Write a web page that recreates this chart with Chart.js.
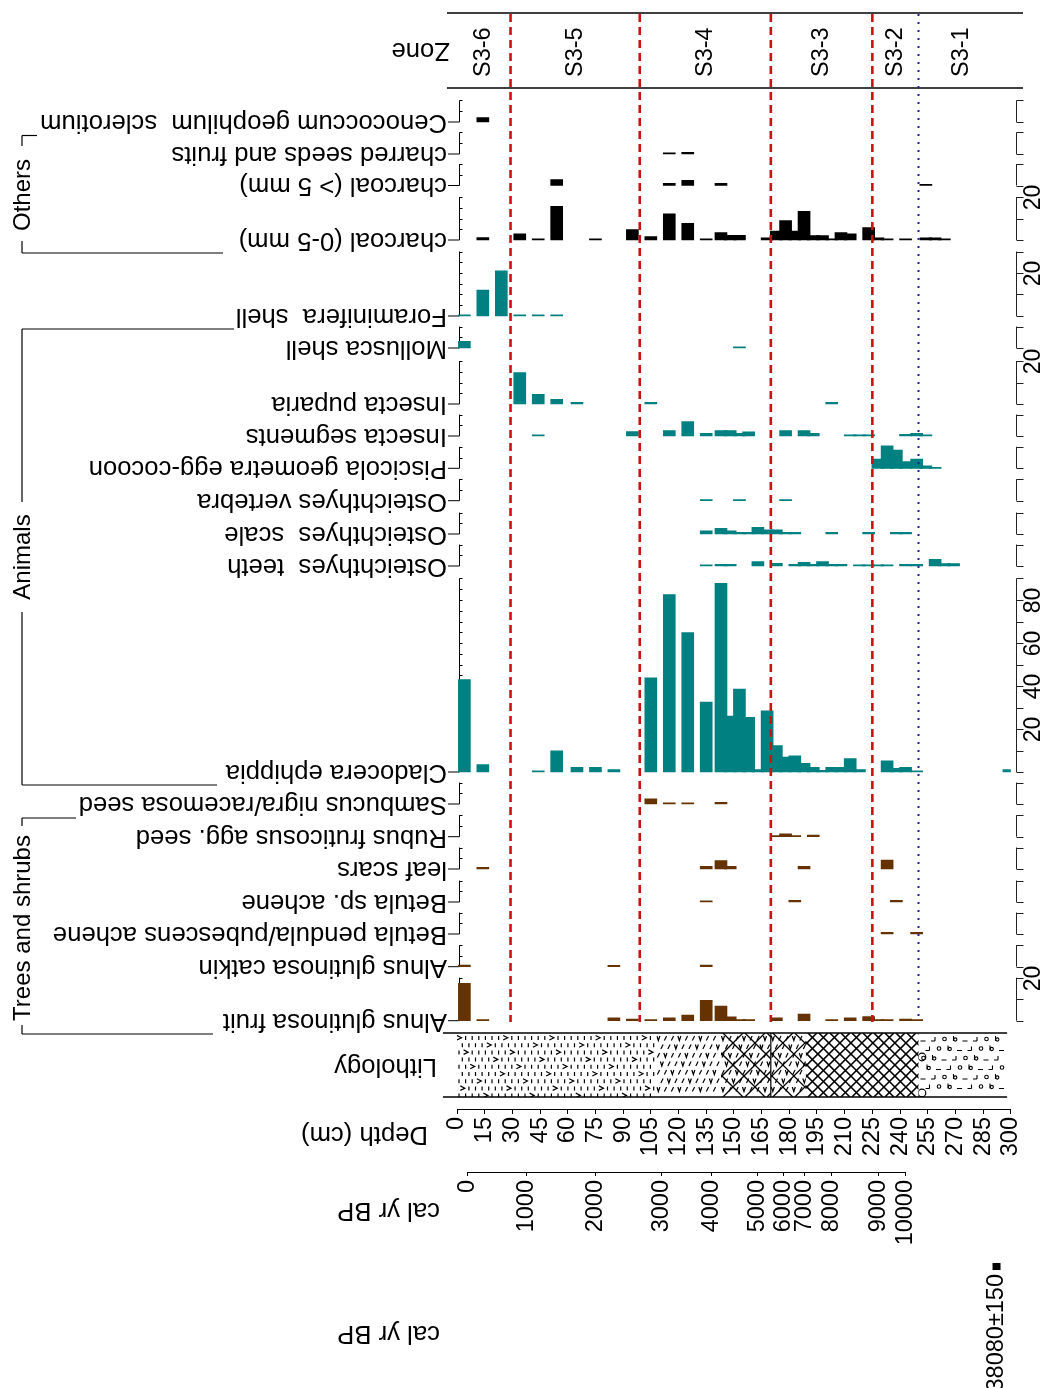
<!DOCTYPE html>
<html>
<head>
<meta charset="utf-8">
<title>Macrofossil diagram S3</title>
<script src="https://cdn.jsdelivr.net/npm/chart.js@4.4.1/dist/chart.umd.min.js"></script>
<style>
  html, body { margin: 0; padding: 0; background: #ffffff; }
  canvas { display: block; }
</style>
</head>
<body>
<canvas id="diagram" width="1042" height="1388" style="width:1042px;height:1388px"></canvas>
<script>
// ---- Samples (depth of each counted slice, cm) ----
const _ = null;
const sampleDepths = [4, 14, 24, 34, 44, 54, 65, 75, 85, 95,
  105, 115, 125, 135, 143, 148, 153, 158, 163, 168,
  173, 178, 183, 188, 193, 198, 203, 208, 213, 218,
  223, 228, 233, 238, 243, 249, 254, 259, 264, 269, 299];

// ---- Counts per taxon, one value per sample (null = not found) ----
const cenococcum     = [_,2,_,_,_,_,_,_,_,_, _,_,_,_,_,_,_,_,_,_, _,_,_,_,_,_,_,_,_,_, _,_,_,_,_,_,_,_,_,_, _];
const charredSeeds   = [_,_,_,_,_,_,_,_,_,_, _,0.6,0.8,_,_,_,_,_,_,_, _,_,_,_,_,_,_,_,_,_, _,_,_,_,_,_,_,_,_,_, _];
const charcoalCoarse = [_,_,_,_,_,2.7,_,_,_,_, _,1,2.4,_,1,_,_,_,_,_, _,_,_,_,_,_,_,_,_,_, _,_,_,_,_,_,0.6,_,_,_, _];
const charcoalFine   = [_,1.1,_,2.9,0.6,15.7,_,0.5,_,4.8, 1.6,12.2,7.7,0.5,3.5,2.2,2.2,_,_,1, 4.2,9,4.2,13.3,2.1,2.1,0.5,3.5,2.9,_, 5.8,1,0.5,_,0.5,_,1,1,0.5,_, _];
const foraminifera   = [0.5,12.1,21,0.5,0.6,0.6,_,_,_,_, _,_,_,_,_,_,_,_,_,_, _,_,_,_,_,_,_,_,_,_, _,_,_,_,_,_,_,_,_,_, _];
const mollusca       = [3.1,_,_,_,_,_,_,_,_,_, _,_,_,_,_,_,0.5,_,_,_, _,_,_,_,_,_,_,_,_,_, _,_,_,_,_,_,_,_,_,_, _];
const puparia        = [_,_,_,14.6,4.5,2.2,0.8,_,_,_, 0.8,_,_,_,_,_,_,_,_,_, _,_,_,_,_,_,0.8,_,_,_, _,_,_,_,_,_,_,_,_,_, _];
const segments       = [_,_,_,_,0.6,_,_,_,_,2, _,2.5,6.7,1.2,2.5,2.5,1.2,1.9,_,_, _,2.5,_,2.5,1.2,_,_,_,0.6,0.6, 0.6,_,_,_,0.8,1.2,0.6,_,_,_, _];
const piscicola      = [_,_,_,_,_,_,_,_,_,_, _,_,_,_,_,_,_,_,_,_, _,_,_,_,_,_,_,_,_,_, _,4.3,10.4,8.5,3.1,4.3,1.2,0.5,_,_, _];
const fishVertebra   = [_,_,_,_,_,_,_,_,_,_, _,_,_,0.5,_,_,0.5,_,_,_, _,0.5,_,_,_,_,_,_,_,_, _,_,_,_,_,_,_,_,_,_, _];
const fishScale      = [_,_,_,_,_,_,_,_,_,_, _,_,_,1.5,2.6,1.5,0.8,0.8,3.1,1.9, 1.9,0.8,0.8,_,_,_,0.8,_,_,_, 0.8,_,_,0.8,0.8,_,_,_,_,_, _];
const fishTeeth      = [_,_,_,_,_,_,_,_,_,_, _,_,_,0.5,0.8,0.8,_,_,2,_, 1.2,_,0.8,1.7,0.8,2,0.8,0.8,_,0.5, 0.5,0.5,0.5,_,0.8,0.8,_,3.1,1.1,1.1, _];
const cladocera      = [43,3.4,_,_,0.6,9.8,2.2,2.2,1.1,_, 43.8,82.5,64.8,32.5,87.8,26,38.6,25.4,1.1,28.5, 12.3,6.9,7.5,4,2.2,0.8,2.2,2.2,6.3,1.1, _,_,5.2,1.7,2.2,0.6,_,_,_,_, 1.1];
const sambucus       = [_,_,_,_,_,_,_,_,_,_, 2.4,0.5,0.5,_,0.8,_,_,_,_,_, _,_,_,_,_,_,_,_,_,_, _,_,_,_,_,_,_,_,_,_, _];
const rubus          = [_,_,_,_,_,_,_,_,_,_, _,_,_,_,_,_,_,_,_,_, 0.5,1.3,0.5,_,0.8,_,_,_,_,_, _,_,_,_,_,_,_,_,_,_, _];
const leafScars      = [_,0.8,_,_,_,_,_,_,_,_, _,_,_,1.3,3.9,1.3,_,_,_,_, _,_,_,1.3,_,_,_,_,_,_, _,_,4.2,_,_,_,_,_,_,_, _];
const betulaSp       = [_,_,_,_,_,_,_,_,_,_, _,_,_,0.5,_,_,_,_,_,_, _,_,0.8,_,_,_,_,_,_,_, _,_,_,0.8,_,_,_,_,_,_, _];
const betulaPendula  = [_,_,_,_,_,_,_,_,_,_, _,_,_,_,_,_,_,_,_,_, _,_,_,_,_,_,_,_,_,_, _,_,0.8,_,_,0.8,_,_,_,_, _];
const alnusCatkin    = [0.8,_,_,_,_,_,_,_,0.6,_, _,_,_,0.8,_,_,_,_,_,_, _,_,_,_,_,_,_,_,_,_, _,_,_,_,_,_,_,_,_,_, _];
const alnusFruit     = [17.4,0.5,_,_,_,_,_,_,1.3,0.8, 0.5,1.3,2.6,9.5,6.8,1.8,0.5,0.5,_,_, 1.3,_,_,3.1,_,_,0.5,_,1.3,_, 1.9,0.5,0.5,_,0.8,0.5,_,_,_,_, _];

const taxonNames = ['Cenococcum geophilum  sclerotium', 'charred seeds and fruits', 'charcoal (> 5 mm)',
  'charcoal (0-5 mm)', 'Foraminifera  shell', 'Mollusca shell', 'Insecta puparia', 'Insecta segments',
  'Piscicola geometra egg-cocoon', 'Osteichthyes vertebra', 'Osteichthyes  scale', 'Osteichthyes  teeth',
  'Cladocera ephippia', 'Sambucus nigra/racemosa seed', 'Rubus fruticosus agg. seed', 'leaf scars',
  'Betula sp. achene', 'Betula pendula/pubescens achene', 'Alnus glutinosa catkin', 'Alnus glutinosa fruit'];
const taxonValues = [cenococcum, charredSeeds, charcoalCoarse, charcoalFine, foraminifera, mollusca, puparia,
  segments, piscicola, fishVertebra, fishScale, fishTeeth, cladocera, sambucus, rubus, leafScars, betulaSp,
  betulaPendula, alnusCatkin, alnusFruit];
const taxonGroup = ['Others','Others','Others','Others','Animals','Animals','Animals','Animals','Animals',
  'Animals','Animals','Animals','Animals','Trees and shrubs','Trees and shrubs','Trees and shrubs',
  'Trees and shrubs','Trees and shrubs','Trees and shrubs','Trees and shrubs'];
const axisMax = [10,10,10,20,30,10,20,10,10,10,10,10,90,10,10,10,10,10,10,20];

// ---- Zones, axes, lithology ----
const zoneNames = ['S3-6', 'S3-5', 'S3-4', 'S3-3', 'S3-2', 'S3-1'];
const zoneBounds = [0, 29, 99, 170, 225, 250, 297];
const depthTicks = [0, 15, 30, 45, 60, 75, 90, 105, 120, 135, 150, 165, 180, 195, 210, 225, 240, 255, 270, 285, 300];
const ageTickLabels = ['0', '1000', '2000', '3000', '4000', '5000', '6000', '7000', '8000', '9000', '10000'];
const ageTickDepths = [5.6, 37.7, 75.1, 110.8, 138, 163, 177, 188, 202.7, 228.4, 242.7];
const datedLabels = ['38080±150'];
const datedDepths = [292];
const lithoTop  = [0, 108, 143, 170, 189, 250];
const lithoBase = [108, 143, 170, 189, 250, 298];
const lithoKind = ['siltChevron', 'siltTicks', 'latticeWide', 'latticeWide', 'latticeDense', 'shellClay'];

// ---- Layout ----
const FONT = 'Liberation Sans, Arial, sans-serif';
const PX_PER_UNIT = 2.15;
const PLOT_TOP = 13, PLOT_BOTTOM = 1109;
const panelBase = [122, 154, 185.5, 240, 316, 348, 404, 436, 468.3, 500.7, 534, 566, 772, 804, 836.7, 869, 902, 934, 966.7, 1020.7];
const groupColor = { 'Others': '#000000', 'Animals': '#008080', 'Trees and shrubs': '#663300' };

function seg(ctx, x1, y1, x2, y2) {
  ctx.beginPath(); ctx.moveTo(x1, y1); ctx.lineTo(x2, y2); ctx.stroke();
}
function text(ctx, str, x, y, angle, align, font) {
  ctx.save();
  ctx.translate(x, y); ctx.rotate(angle);
  ctx.textAlign = align; ctx.textBaseline = 'middle';
  ctx.font = font; ctx.fillStyle = '#000';
  ctx.fillText(str, 0, 0);
  ctx.restore();
}

const lithoPainters = {
  siltChevron(ctx, xa, xb, t, b) {
    ctx.lineWidth = 1.2; ctx.strokeStyle = '#000';
    let r = 0;
    for (let y = t + 3; y < b - 2; y += 7.2, r++) {
      let c = 0;
      for (let x = xa + 2 + (r % 2) * 3.3; x < xb; x += 6.6, c++) {
        if ((c + 3 * r) % 7 === 0) {
          ctx.beginPath(); ctx.moveTo(x - 2, y - 0.5); ctx.lineTo(x + 2.5, y + 1.8); ctx.lineTo(x - 2, y + 4); ctx.stroke();
        } else {
          seg(ctx, x, y, x, y + 4);
        }
      }
    }
  },
  siltTicks(ctx, xa, xb, t, b) {
    ctx.lineWidth = 1.2; ctx.strokeStyle = '#000';
    let r = 0;
    for (let y = t + 3; y < b - 2; y += 8.5, r++) {
      let c = 0;
      for (let x = xa + 2 + (r % 2) * 3.5; x < xb; x += 7, c++) {
        if ((c + r) % 3 === 0) {
          ctx.beginPath(); ctx.moveTo(x - 1.5, y); ctx.lineTo(x, y + 4.5); ctx.lineTo(x + 1.5, y); ctx.stroke();
        } else {
          seg(ctx, x - 1, y + 4.5, x + 1.2, y);
        }
      }
    }
  },
  latticeWide(ctx, xa, xb, t, b) {
    lithoPainters.siltTicks(ctx, xa, xb, t, b);
    ctx.lineWidth = 1.3; ctx.strokeStyle = '#000';
    const h = b - t, p = 22;
    for (let c = xa - h - p; c < xb + p; c += p) {
      seg(ctx, c, t, c + h, b);
      seg(ctx, c, b, c + h, t);
    }
  },
  latticeDense(ctx, xa, xb, t, b) {
    ctx.lineWidth = 1.6; ctx.strokeStyle = '#000';
    const h = b - t, p = 11;
    for (let c = xa - h - p; c < xb + p; c += p) {
      seg(ctx, c, t, c + h, b);
      seg(ctx, c, b, c + h, t);
    }
  },
  shellClay(ctx, xa, xb, t, b) {
    ctx.lineWidth = 1.1; ctx.strokeStyle = '#000';
    let r = 0;
    for (let y = t + 4; y < b - 3; y += 9.5, r++) {
      let c = 0;
      for (let x = xa + 5 + (r % 2) * 5; x < xb - 2; x += 10.5, c++) {
        const k = (c + r) % 4;
        if (k === 0) {
          seg(ctx, x - 3, y + 4, x + 2, y + 4);
        } else if (k === 1) {
          seg(ctx, x + 1, y, x + 1, y + 4); seg(ctx, x - 3, y + 4, x + 1, y + 4);
        } else if (k === 2) {
          ctx.beginPath(); ctx.arc(x, y + 2, 1.8, 0, Math.PI * 2); ctx.stroke();
        } else {
          seg(ctx, x - 1.5, y - 1, x - 1.5, y + 4);
          ctx.beginPath(); ctx.arc(x + 0.3, y + 2.5, 1.6, 0, Math.PI * 2); ctx.stroke();
        }
      }
    }
    ctx.lineWidth = 1.2;
    ctx.beginPath(); ctx.arc(xa + 3.5, t + 24, 3.8, 0, Math.PI * 2); ctx.stroke();
    ctx.beginPath(); ctx.arc(xa + 3.5, b - 4, 3.8, 0, Math.PI * 2); ctx.stroke();
  }
};

const diagramPlugin = {
  id: 'diagramFurniture',
  beforeDatasetsDraw(chart) {
    const ctx = chart.ctx;
    const xs = chart.scales.x;
    const X = d => xs.getPixelForValue(d);
    ctx.save();
    // lithology column
    const lt = 1033, lb = 1097;
    for (let u = 0; u < lithoKind.length; u++) {
      const xa = X(lithoTop[u]), xb = X(lithoBase[u]);
      ctx.save();
      ctx.beginPath(); ctx.rect(xa, lt, xb - xa, lb - lt); ctx.clip();
      lithoPainters[lithoKind[u]](ctx, xa, xb, lt, lb);
      ctx.restore();
    }
    ctx.strokeStyle = '#000'; ctx.lineWidth = 1.2;
    seg(ctx, X(170), lt, X(170), lb);
    ctx.lineWidth = 1.5;
    seg(ctx, 443, lt, X(298), lt);
    seg(ctx, 443, lb, X(298), lb);

    // panel axes
    const axL = 459.5, axR = 1016.5;
    for (let i = 0; i < taxonNames.length; i++) {
      const ys = chart.scales['y' + i];
      const y0 = ys.getPixelForValue(0), yTop = ys.getPixelForValue(axisMax[i]);
      ctx.strokeStyle = '#000'; ctx.lineWidth = 1;
      seg(ctx, 448, y0, axL, y0);
      seg(ctx, axL, y0, axL, yTop);
      for (let v = 5; v <= axisMax[i]; v += 5) {
        const yy = Math.round(ys.getPixelForValue(v)) + 0.5;
        seg(ctx, axL, yy, axL + 3, yy);
      }
      ctx.strokeStyle = '#222';
      seg(ctx, axR, y0, axR, yTop);
      for (let v = 0; v <= axisMax[i]; v += 10) {
        const yy = Math.round(ys.getPixelForValue(v)) + 0.5;
        seg(ctx, axR, yy, axR + 7, yy);
        if (v > 0 && v % 20 === 0) {
          text(ctx, String(v), 1034, yy, -Math.PI / 2, 'center', '23px ' + FONT);
        }
      }
    }
    ctx.restore();
  },
  afterDatasetsDraw(chart) {
    const ctx = chart.ctx;
    const xs = chart.scales.x;
    const X = d => xs.getPixelForValue(d);
    ctx.save();
    // zone header
    ctx.strokeStyle = '#000'; ctx.lineWidth = 1.5;
    seg(ctx, 447, 13, 1023, 13);
    seg(ctx, 447, 88, 1023, 88);
    for (let z = 0; z < zoneNames.length; z++) {
      const mid = (zoneBounds[z] + zoneBounds[z + 1]) / 2;
      text(ctx, zoneNames[z], X(mid), 77, -Math.PI / 2, 'left', '23.5px ' + FONT);
    }
    // zone boundaries
    for (let z = 1; z < zoneBounds.length - 1; z++) {
      const x = X(zoneBounds[z]);
      if (zoneBounds[z] === 250) {
        ctx.strokeStyle = '#2020a8'; ctx.lineWidth = 2; ctx.setLineDash([2, 6]);
      } else {
        ctx.strokeStyle = '#cc1111'; ctx.lineWidth = 2.6; ctx.setLineDash([8, 5]);
      }
      seg(ctx, x, 14, x, 1022);
    }
    ctx.setLineDash([]);
    ctx.restore();
  },
  afterDraw(chart) {
    const ctx = chart.ctx;
    ctx.save();
    const labelFont = '25.7px ' + FONT;
    for (let i = 0; i < taxonNames.length; i++) {
      const y0 = chart.scales['y' + i].getPixelForValue(0);
      text(ctx, taxonNames[i], 447, y0, Math.PI, 'left', labelFont);
    }
    text(ctx, 'Zone', 450, 50, Math.PI, 'left', labelFont);
    text(ctx, 'Lithology', 437, 1066, Math.PI, 'left', labelFont);
    text(ctx, 'Depth (cm)', 428, 1134, Math.PI, 'left', labelFont);
    text(ctx, 'cal yr BP', 440, 1210, Math.PI, 'left', labelFont);
    text(ctx, 'cal yr BP', 440, 1333, Math.PI, 'left', labelFont);

    // group brackets
    const gFont = '24px ' + FONT;
    ctx.strokeStyle = '#000'; ctx.lineWidth = 1.2;
    // Others
    seg(ctx, 22, 135.5, 37, 135.5); seg(ctx, 22, 135.5, 22, 146);
    seg(ctx, 22, 241, 22, 253); seg(ctx, 22, 253, 223, 253);
    text(ctx, 'Others', 23, 195, -Math.PI / 2, 'center', gFont);
    // Animals
    seg(ctx, 22, 329, 234, 329); seg(ctx, 22, 329, 22, 502);
    seg(ctx, 22, 612, 22, 785); seg(ctx, 22, 785, 217, 785);
    text(ctx, 'Animals', 23, 557, -Math.PI / 2, 'center', gFont);
    // Trees and shrubs
    seg(ctx, 22, 818, 76, 818); seg(ctx, 22, 818, 22, 826);
    seg(ctx, 22, 1025, 22, 1034); seg(ctx, 22, 1034, 213, 1034);
    text(ctx, 'Trees and shrubs', 23, 928, -Math.PI / 2, 'center', gFont);

    // age axis line between first and last tick
    const ax = chart.scales.xAge;
    ctx.lineWidth = 1;
    seg(ctx, ax.getPixelForValue(ageTickDepths[0]), ax.top + 0.5,
             ax.getPixelForValue(ageTickDepths[ageTickDepths.length - 1]), ax.top + 0.5);
    // dated sample marker
    const dx = chart.scales.xDated;
    ctx.fillStyle = '#000';
    ctx.fillRect(dx.getPixelForValue(datedDepths[0]) - 3.5, dx.top + 1, 8, 7);
    ctx.restore();
  }
};

const datasets = taxonValues.map((vals, i) => ({
  label: taxonNames[i],
  yAxisID: 'y' + i,
  data: sampleDepths.map((d, k) => (vals[k] == null ? null : { x: d, y: vals[k] })).filter(p => p),
  backgroundColor: groupColor[taxonGroup[i]],
  borderWidth: 0,
  barThickness: 12,
  grouped: false
}));

const scales = {
  x: {
    type: 'linear', position: 'bottom', weight: 0, min: 0, max: 300, offset: false,
    afterBuildTicks: s => { s.ticks = depthTicks.map(v => ({ value: v })); },
    afterFit: s => { s.height = 63; },
    grid: { drawOnChartArea: false, offset: false, tickLength: 5, color: '#000', tickColor: '#000' },
    border: { display: true, color: '#000', width: 1 },
    ticks: { autoSkip: false, minRotation: 90, maxRotation: 90, padding: 3, color: '#000', font: { family: FONT, size: 23.5 } }
  },
  xAge: {
    type: 'linear', axis: 'x', position: 'bottom', weight: 1, min: 0, max: 300, offset: false,
    afterBuildTicks: s => { s.ticks = ageTickDepths.map(v => ({ value: v })); },
    afterFit: s => { s.height = 90; },
    grid: { drawOnChartArea: false, offset: false, tickLength: 4, color: '#000', tickColor: '#000' },
    border: { display: false },
    ticks: { autoSkip: false, minRotation: 90, maxRotation: 90, padding: 4, color: '#000',
      font: { family: FONT, size: 23.5 }, callback: (v, i) => ageTickLabels[i] }
  },
  xDated: {
    type: 'linear', axis: 'x', position: 'bottom', weight: 2, min: 0, max: 300, offset: false,
    afterBuildTicks: s => { s.ticks = datedDepths.map(v => ({ value: v })); },
    afterFit: s => { s.height = 126; },
    grid: { display: false, drawTicks: false, drawOnChartArea: false },
    border: { display: false },
    ticks: { autoSkip: false, minRotation: 90, maxRotation: 90, padding: 12, color: '#000',
      font: { family: FONT, size: 23.5 }, callback: (v, i) => datedLabels[i] }
  }
};
taxonNames.forEach((n, i) => {
  scales['y' + i] = {
    type: 'linear', axis: 'y', display: false,
    min: -(PLOT_BOTTOM - panelBase[i]) / PX_PER_UNIT,
    max: (panelBase[i] - PLOT_TOP) / PX_PER_UNIT
  };
});

new Chart(document.getElementById('diagram'), {
  type: 'bar',
  data: { datasets },
  options: {
    responsive: false,
    animation: false,
    devicePixelRatio: 1,
    layout: { padding: { left: 457, right: 30, top: PLOT_TOP, bottom: 0 } },
    plugins: { legend: { display: false }, tooltip: { enabled: false } },
    scales
  },
  plugins: [diagramPlugin]
});
</script>
</body>
</html>
